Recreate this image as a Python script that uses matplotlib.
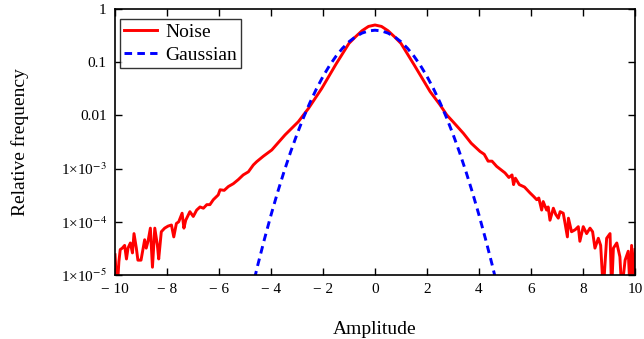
import numpy as np
import matplotlib.pyplot as plt

plt.rcParams['font.family'] = ['Liberation Serif', 'DejaVu Serif']
plt.rcParams['mathtext.fontset'] = 'stix'

noise_x = [-10.0, -9.92, -9.85, -9.8, -9.72, -9.63, -9.56, -9.5, -9.41, -9.33,
           -9.27, -9.18, -9.12, -9.0, -8.92, -8.86, -8.8, -8.73, -8.64, -8.56,
           -8.47, -8.37, -8.32, -8.22, -8.09, -7.96, -7.83, -7.74, -7.64, -7.55,
           -7.42, -7.35, -7.28, -7.12, -6.99, -6.86, -6.73, -6.6, -6.47, -6.35,
           -6.22, -6.03, -5.96, -5.8, -5.64, -5.45, -5.26, -5.07, -4.87, -4.68,
           -4.55, -4.3, -3.97, -3.46, -2.95, -2.56, -2.05, -1.5, -1.0, -0.75,
           -0.5, -0.25, 0.0, 0.25, 0.5, 0.75, 1.0, 1.5, 2.12, 2.5,
           2.76, 3.0, 3.4, 3.7, 4.04, 4.2, 4.35, 4.5, 4.68, 4.85,
           5.0, 5.15, 5.27, 5.33, 5.4, 5.55, 5.75, 5.96, 6.1, 6.22,
           6.3, 6.41, 6.47, 6.6, 6.66, 6.73, 6.86, 6.95, 7.05, 7.12,
           7.24, 7.3, 7.4, 7.44, 7.56, 7.7, 7.82, 7.88, 8.01, 8.14,
           8.27, 8.37, 8.46, 8.59, 8.68, 8.78, 8.91, 9.04, 9.1, 9.17,
           9.3, 9.42, 9.49, 9.62, 9.74, 9.81, 9.87, 9.94, 10.0]
noise_y = [2.4e-5, 5e-6, 1.8e-5, 3.0e-5, 3.2e-5, 3.6e-5, 2.0e-5, 3.2e-5, 4.0e-5, 2.6e-5,
           6.0e-5, 3.2e-5, 1.9e-5, 1.9e-5, 3.2e-5, 4.6e-5, 3.2e-5, 4.3e-5, 7.6e-5, 1.4e-5,
           7.6e-5, 3.6e-5, 2.0e-5, 6.5e-5, 7.6e-5, 8.3e-5, 8.7e-5, 5.2e-5, 9.3e-5, 1.0e-4,
           1.45e-4, 7.6e-5, 1.07e-4, 1.55e-4, 1.26e-4, 1.66e-4, 1.9e-4, 1.8e-4, 2.1e-4, 2.1e-4,
           2.6e-4, 3.2e-4, 4.0e-4, 3.9e-4, 4.6e-4, 5.2e-4, 6.2e-4, 7.6e-4, 8.7e-4, 1.17e-3,
           1.35e-3, 1.7e-3, 2.24e-3, 4.3e-3, 7.6e-3, 0.0135, 0.032, 0.092, 0.226, 0.30,
           0.39, 0.47, 0.50, 0.47, 0.39, 0.30, 0.225, 0.09, 0.028, 0.0158,
           0.0102, 7.6e-3, 4.6e-3, 3.0e-3, 2.1e-3, 1.86e-3, 1.38e-3, 1.38e-3, 1.1e-3, 9.5e-4,
           8.3e-4, 6.8e-4, 7.6e-4, 5.0e-4, 6.6e-4, 5.0e-4, 4.5e-4, 3.5e-4, 3.0e-4, 2.6e-4,
           2.8e-4, 1.66e-4, 2.4e-4, 1.66e-4, 1.9e-4, 1.07e-4, 1.8e-4, 1.38e-4, 1.17e-4, 1.55e-4,
           1.45e-4, 1.0e-4, 5.2e-5, 1.17e-4, 6.5e-5, 7.1e-5, 8.1e-5, 4.3e-5, 8.1e-5, 6.0e-5,
           7.6e-5, 6.5e-5, 3.2e-5, 4.9e-5, 3.6e-5, 5e-6, 4.9e-5, 6.0e-5, 5e-6, 3.2e-5,
           4.0e-5, 2.2e-5, 5e-6, 1.9e-5, 2.8e-5, 5e-6, 3.6e-5, 5e-6, 3.0e-5]

# Gaussian reference curve
gauss_x = [-4.75, -4.5, -4.25, -4.0, -3.75, -3.5, -3.25, -3.0, -2.75, -2.5,
           -2.25, -2.0, -1.75, -1.5, -1.25, -1.0, -0.75, -0.5, -0.25, 0.0,
           0.25, 0.5, 0.75, 1.0, 1.25, 1.5, 1.75, 2.0, 2.25, 2.5,
           2.75, 3.0, 3.25, 3.5, 3.75, 4.0, 4.25, 4.5, 4.75]
gauss_y = [5.03e-6, 1.60e-5, 4.77e-5, 1.34e-4, 3.53e-4, 8.73e-4, 2.03e-3, 4.43e-3, 9.09e-3, 0.0175,
           0.0317, 0.0540, 0.0863, 0.1295, 0.1826, 0.2420, 0.3011, 0.3521, 0.3867, 0.3989,
           0.3867, 0.3521, 0.3011, 0.2420, 0.1826, 0.1295, 0.0863, 0.0540, 0.0317, 0.0175,
           9.09e-3, 4.43e-3, 2.03e-3, 8.73e-4, 3.53e-4, 1.34e-4, 4.77e-5, 1.60e-5, 5.03e-6]

x_ticks = [-10, -8, -6, -4, -2, 0, 2, 4, 6, 8, 10]
x_labels = ['\u2212 10', '\u2212 8', '\u2212 6', '\u2212 4', '\u2212 2', '0', '2', '4', '6', '8', '10']
y_ticks = [1e-5, 1e-4, 1e-3, 1e-2, 1e-1, 1]
y_labels = ['1\u00d710$^{-5}$', '1\u00d710$^{-4}$', '1\u00d710$^{-3}$', '0.01', '0.1', '1']

fig = plt.figure(figsize=(6.44, 3.39), dpi=100)
ax = fig.add_axes([0.1786, 0.1888, 0.8074, 0.7847])

ax.plot(noise_x, noise_y, color='red', lw=2.1, label='Noise')
ax.plot(gauss_x, gauss_y, color='blue', lw=2.1, ls=(0, (2.6, 1.8)), label='Gaussian')

ax.set_yscale('log')
ax.set_xlim(-10, 10)
ax.set_ylim(1e-5, 1)
ax.set_xticks(x_ticks)
ax.set_xticklabels(x_labels)
ax.set_yticks(y_ticks)
ax.set_yticklabels(y_labels)
ax.minorticks_off()
ax.tick_params(direction='in', length=5, width=1, top=True, right=True,
               labelsize=11, colors='black', pad=6)
for s in ax.spines.values():
    s.set_linewidth(1.2)

ax.set_xlabel('Amplitude', fontsize=14, labelpad=18)
ax.set_ylabel('Relative frequency', fontsize=14, labelpad=23)

leg = ax.legend(loc='upper left', bbox_to_anchor=(0.01, 0.962), borderaxespad=0,
                fontsize=14, frameon=True, fancybox=False,
                handlelength=1.7, borderpad=0.2, labelspacing=0.3,
                handletextpad=0.4)
leg.get_frame().set_edgecolor('black')
leg.get_frame().set_linewidth(1.0)

fig.savefig('out.png', dpi=100)
